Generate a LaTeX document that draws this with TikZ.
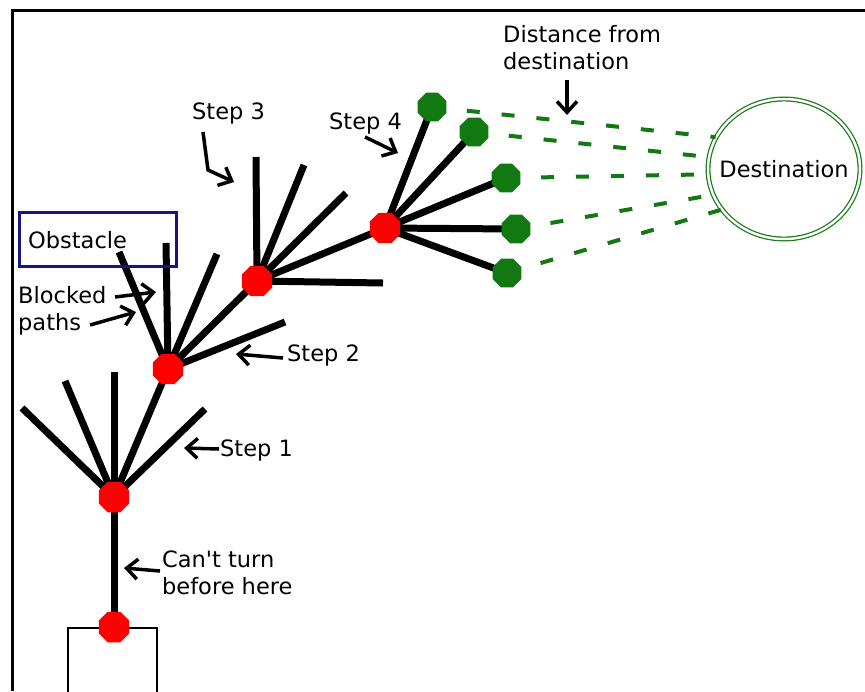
\documentclass[tikz,border=0pt]{standalone}
\usepackage{fontspec}
\setmainfont{DejaVu Sans}[Ligatures=TeXOff]
\usetikzlibrary{shapes.geometric,arrows.meta}
\definecolor{dgreen}{RGB}{18,120,18}
\definecolor{obsblue}{RGB}{20,20,140}
\begin{document}
\begin{tikzpicture}[x=1pt,y=-1pt,
  lbl/.style={font=\fontsize{22.5}{27}\selectfont, inner sep=0pt, align=left},
  rednode/.style={regular polygon, regular polygon sides=8, fill=red, draw=none, minimum size=33pt, inner sep=0pt},
  grnnode/.style={regular polygon, regular polygon sides=8, fill=dgreen, draw=none, minimum size=31pt, inner sep=0pt},
  branch/.style={line width=7pt},
  hand/.style={line width=3.5pt, -{Straight Barb[length=11pt,width=20pt,line width=3.5pt]}},
  gdash/.style={dgreen, line width=4pt, dash pattern=on 13pt off 22pt}]
\useasboundingbox (0,0) rectangle (865,691);
\fill[white] (0,0) rectangle (865,691);
% frame
\draw[line width=3pt] (12,691) -- (12,10) -- (866,10);
% start box
\draw[line width=2.5pt] (68,692) -- (68,628) -- (157,628) -- (157,692);
% coordinates
\coordinate (n0) at (114,627);
\coordinate (n1) at (114,497);
\coordinate (n2) at (168,369);
\coordinate (n3) at (257,281);
\coordinate (n4) at (385,228);
\coordinate (g1) at (432,107);
\coordinate (g2) at (474,132);
\coordinate (g3) at (506,178);
\coordinate (g4) at (516,229);
\coordinate (g5) at (507,273);
% branch ends
\coordinate (a1) at (22,408);
\coordinate (a2) at (65,381);
\coordinate (a3) at (114,372);
\coordinate (a4) at (205,409);
\coordinate (b1) at (119,252);
\coordinate (b2) at (166,243);
\coordinate (b3) at (217,254);
\coordinate (b4) at (285,322);
\coordinate (c1) at (256,157);
\coordinate (c2) at (304,165);
\coordinate (c3) at (346,193);
\coordinate (c4) at (383,283);
% destination
\node[draw=dgreen, line width=1.2pt, double=white, double distance=2.5pt, ellipse,
      minimum width=152pt, minimum height=140pt, inner sep=0pt] (dest) at (784,169) {};
\node[lbl] (destl) at (784,169) {Destination};
% dashed green distances
\draw[gdash] (g1) -- (dest.155);
\draw[gdash] (g2) -- (dest.171);
\draw[gdash] (g3) -- (dest.184);
\draw[gdash] (g4) -- (dest.200);
\draw[gdash] (g5) -- (dest.213);
% branches
\draw[branch] (n0) -- (n1);
\draw[branch] (n1) -- (a1);
\draw[branch] (n1) -- (a2);
\draw[branch] (n1) -- (a3);
\draw[branch] (n1) -- (n2);
\draw[branch] (n1) -- (a4);
\draw[branch] (n2) -- (b1);
\draw[branch] (n2) -- (b2);
\draw[branch] (n2) -- (b3);
\draw[branch] (n2) -- (n3);
\draw[branch] (n2) -- (b4);
\draw[branch] (n3) -- (c1);
\draw[branch] (n3) -- (c2);
\draw[branch] (n3) -- (c3);
\draw[branch] (n3) -- (n4);
\draw[branch] (n3) -- (c4);
\draw[branch] (n4) -- (g1);
\draw[branch] (n4) -- (g2);
\draw[branch] (n4) -- (g3);
\draw[branch] (n4) -- (g4);
\draw[branch] (n4) -- (g5);
% nodes
\node[rednode] (r0) at (n0) {};
\node[rednode] (r1) at (n1) {};
\node[rednode] (r2) at (n2) {};
\node[rednode] (r3) at (n3) {};
\node[rednode] (r4) at (n4) {};
\node[grnnode] (G1) at (g1) {};
\node[grnnode] (G2) at (g2) {};
\node[grnnode] (G3) at (g3) {};
\node[grnnode] (G4) at (g4) {};
\node[grnnode] (G5) at (g5) {};
% obstacle
\node[draw=obsblue, line width=3pt, minimum width=157pt, minimum height=54pt, inner sep=0pt] (obs) at (97.5,239) {};
\node[lbl, anchor=west] (obsl) at (28,240) {Obstacle};
% labels
\node[lbl, anchor=west] (s3) at (192,113) {Step 3};
\node[lbl, anchor=west] (s4) at (329,123) {Step 4};
\node[lbl, anchor=north west] (dist) at (503,25) {Distance from\\destination};
\node[lbl, anchor=west] (blk) at (18,311) {Blocked\\paths};
\node[lbl, anchor=west] (s2) at (287,355) {Step 2};
\node[lbl, anchor=west] (s1) at (220,450) {Step 1};
\node[lbl, anchor=west] (ct) at (162,573) {Can't turn\\before here};
% hand-drawn arrows
\coordinate (h3a) at (203,132);
\coordinate (h3b) at (208,170);
\coordinate (h3c) at (234,182);
\draw[hand] (h3a) -- (h3b) -- (h3c);
\coordinate (h4a) at (365,137);
\coordinate (h4b) at (398,153);
\draw[hand] (h4a) -- (h4b);
\coordinate (hda) at (567,80);
\coordinate (hdb) at (567,115);
\draw[hand] (hda) -- (hdb);
\coordinate (hba) at (115,297);
\coordinate (hbb) at (156,292);
\draw[hand] (hba) -- (hbb);
\coordinate (hpa) at (90,325);
\coordinate (hpb) at (136,312);
\draw[hand] (hpa) -- (hpb);
\coordinate (h2a) at (283,358);
\coordinate (h2b) at (236,354);
\draw[hand] (h2a) -- (h2b);
\coordinate (h1a) at (219,449);
\coordinate (h1b) at (184,448);
\draw[hand] (h1a) -- (h1b);
\coordinate (hca) at (160,571);
\coordinate (hcb) at (124,568);
\draw[hand] (hca) -- (hcb);
\end{tikzpicture}
\end{document}
